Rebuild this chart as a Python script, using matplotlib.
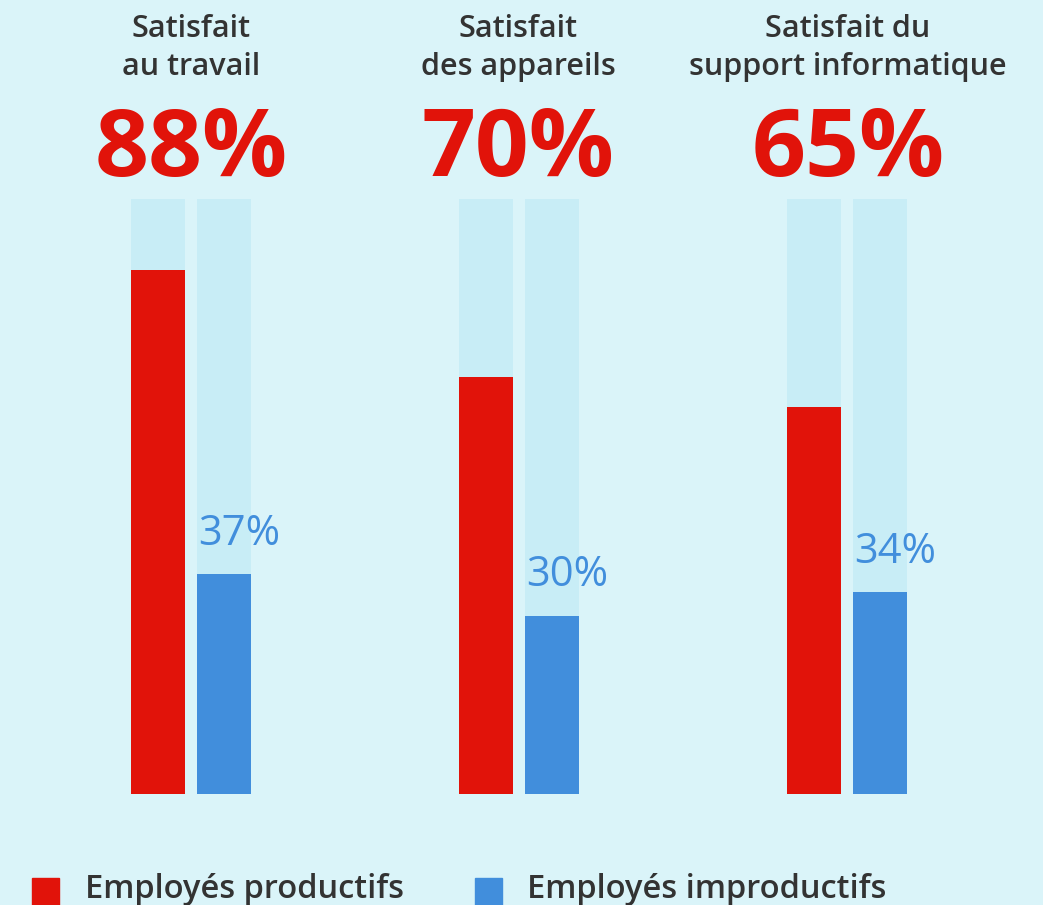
import numpy as np
import matplotlib.pyplot as plt
from matplotlib.patches import Rectangle

# data
categories = ["Satisfait\nau travail", "Satisfait\ndes appareils", "Satisfait du\nsupport informatique"]
productive = [88, 70, 65]
unproductive = [37, 30, 34]
series_labels = ["Employés productifs", "Employés improductifs"]

BG = "#DAF4F9"
TRACK = "#C8EDF6"
RED = "#E1130A"
BLUE = "#418EDC"
DARK = "#333333"
FONT = "Open Sans"

W, H = 1043, 905
fig = plt.figure(figsize=(W / 100, H / 100), dpi=100, facecolor=BG)

# axes: bars run from y=199 px to y=794 px (from top) for 0..100 %
ax = fig.add_axes([0, (H - 794) / H, 1, 595 / H])
ax.patch.set_alpha(0)
spacing = 328.0
x0 = 191.0
ax.set_xlim(-x0 / spacing, (W - x0) / spacing)
ax.set_ylim(0, 100)
ax.axis("off")

x = np.arange(len(categories))
bw = 54 / spacing
off = 33 / spacing

ax.bar(x - off, [100] * len(x), width=bw, color=TRACK, zorder=1)
ax.bar(x + off, [100] * len(x), width=bw, color=TRACK, zorder=1)
ax.bar(x - off, productive, width=bw, color=RED, zorder=2)
ax.bar(x + off, unproductive, width=bw, color=BLUE, zorder=2)

for xi, v in zip(x, unproductive):
    ax.annotate(f"{v}%", (xi + off - bw / 2, v), xytext=(1, 21), textcoords="offset points",
                ha="left", va="baseline", color=BLUE, fontsize=30, family=FONT,
                fontweight="medium")


def fx(px):
    return px / W


def fy(py):
    return (H - py) / H


centers = [191, 518, 848]
for c, cat, v in zip(centers, categories, productive):
    line1, line2 = cat.split("\n")
    fig.text(fx(c), fy(37), line1, ha="center", va="baseline", fontsize=22,
             color=DARK, family=FONT, fontweight="semibold")
    fig.text(fx(c), fy(75), line2, ha="center", va="baseline", fontsize=22,
             color=DARK, family=FONT, fontweight="semibold")
    fig.text(fx(c), fy(176), f"{v}%", ha="center", va="baseline", fontsize=68,
             color=RED, family=FONT, fontweight="bold")

# legend
for (sx, tx), lab, col in zip([(32, 85), (475, 527)], series_labels, [RED, BLUE]):
    fig.patches.append(Rectangle((fx(sx), 0), 27 / W, 27 / H, transform=fig.transFigure,
                                 color=col, figure=fig))
    fig.text(fx(tx), fy(898), lab, ha="left", va="baseline", fontsize=23.5,
             color=DARK, family=FONT, fontweight="semibold")

fig.savefig("out.png", dpi=100, facecolor=BG)
